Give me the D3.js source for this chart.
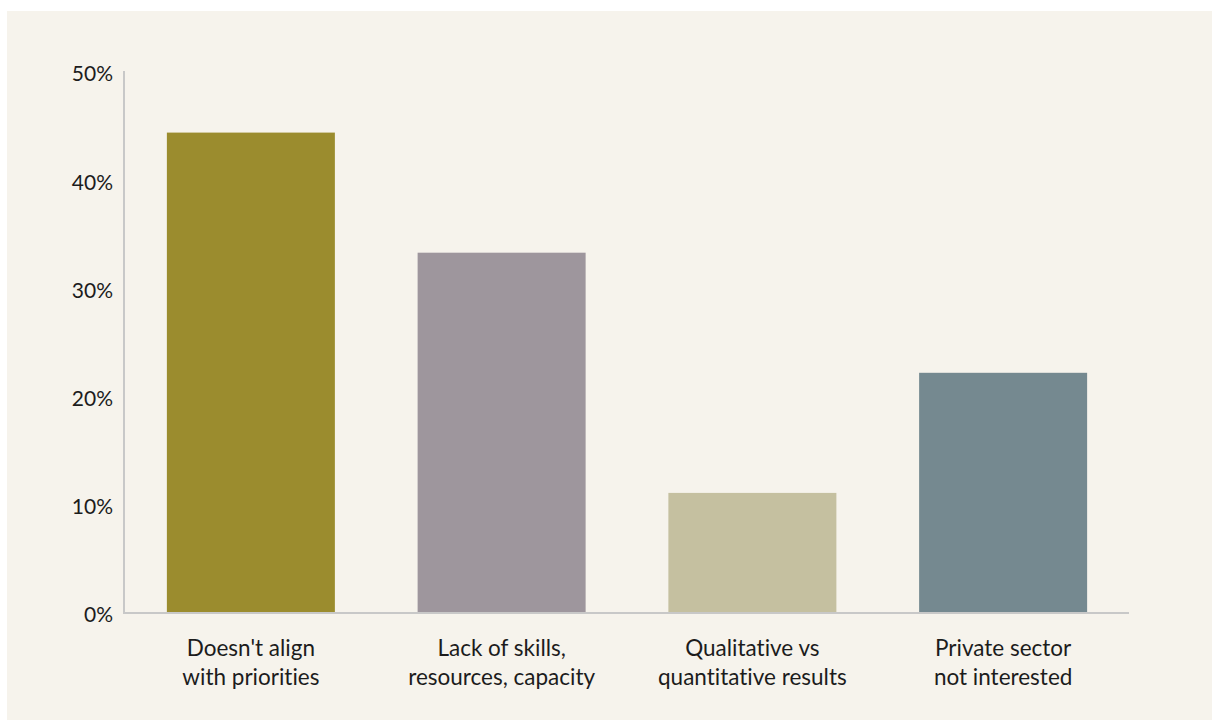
<!DOCTYPE html>
<html>
<head>
<meta charset="utf-8">
<script src="https://cdn.jsdelivr.net/npm/d3@7"></script>
<style>
  html, body { margin: 0; padding: 0; background: #fff; }
  text { font-family: Lato, "Open Sans", sans-serif; fill: #1c1c1c; font-variant-ligatures: none; }
</style>
</head>
<body>
<div id="chart"></div>
<script>
// Chart data.
var categories = [
  ["Doesn't align", "with priorities"],
  ["Lack of skills,", "resources, capacity"],
  ["Qualitative vs", "quantitative results"],
  ["Private sector", "not interested"]
];
var values = [0.444, 0.333, 0.111, 0.222];
var colors = ['#9b8c2e', '#9e969d', '#c5c0a0', '#758990'];
var yTicks = [0, 0.1, 0.2, 0.3, 0.4, 0.5];

var width = 1212,
  height = 720;

var svg = d3.select('#chart').append('svg')
  .attr('width', width)
  .attr('height', height);

// Cream panel.
svg.append('rect')
  .attr('x', 7)
  .attr('y', 11)
  .attr('width', width - 7)
  .attr('height', height - 11)
  .attr('fill', '#f6f3ec');

var x = d3.scaleBand()
  .domain(d3.range(categories.length))
  .range([125.5, 1128.5])
  .paddingInner(0.33)
  .paddingOuter(0.165);

var y = d3.scaleLinear()
  .domain([0, 0.5])
  .range([613, 72]);

// Bars.
svg.selectAll('rect.bar')
  .data(values)
  .enter().append('rect')
  .attr('class', 'bar')
  .attr('x', function (d, i) { return x(i); })
  .attr('y', function (d) { return y(d); })
  .attr('width', x.bandwidth())
  .attr('height', function (d) { return y(0) - y(d); })
  .attr('fill', function (d, i) { return colors[i]; });

// Axis lines.
svg.append('line')
  .attr('x1', 124).attr('x2', 124)
  .attr('y1', y(0.5) - 1).attr('y2', y(0) + 1)
  .attr('stroke', '#c8c8c8')
  .attr('stroke-width', 2);

svg.append('line')
  .attr('x1', 123).attr('x2', 1129)
  .attr('y1', y(0)).attr('y2', y(0))
  .attr('stroke', '#c8c8c8')
  .attr('stroke-width', 2);

// Y tick labels.
svg.selectAll('text.ytick')
  .data(yTicks)
  .enter().append('text')
  .attr('class', 'ytick')
  .attr('x', 113)
  .attr('y', function (d) { return y(d); })
  .attr('dy', '0.45em')
  .attr('text-anchor', 'end')
  .style('font-size', '21px')
  .text(d3.format('.0%'));

// Category labels, two lines each.
var labels = svg.selectAll('text.xlabel')
  .data(categories)
  .enter().append('text')
  .attr('class', 'xlabel')
  .attr('text-anchor', 'middle')
  .style('font-size', '22.5px')
  .attr('transform', function (d, i) {
    return 'translate(' + (x(i) + x.bandwidth() / 2) + ',' + 656 + ')';
  });

labels.selectAll('tspan')
  .data(function (d) { return d; })
  .enter().append('tspan')
  .attr('x', 0)
  .attr('dy', function (d, j) { return j === 0 ? 0 : 29; })
  .text(function (d) { return d; });
</script>
</body>
</html>
